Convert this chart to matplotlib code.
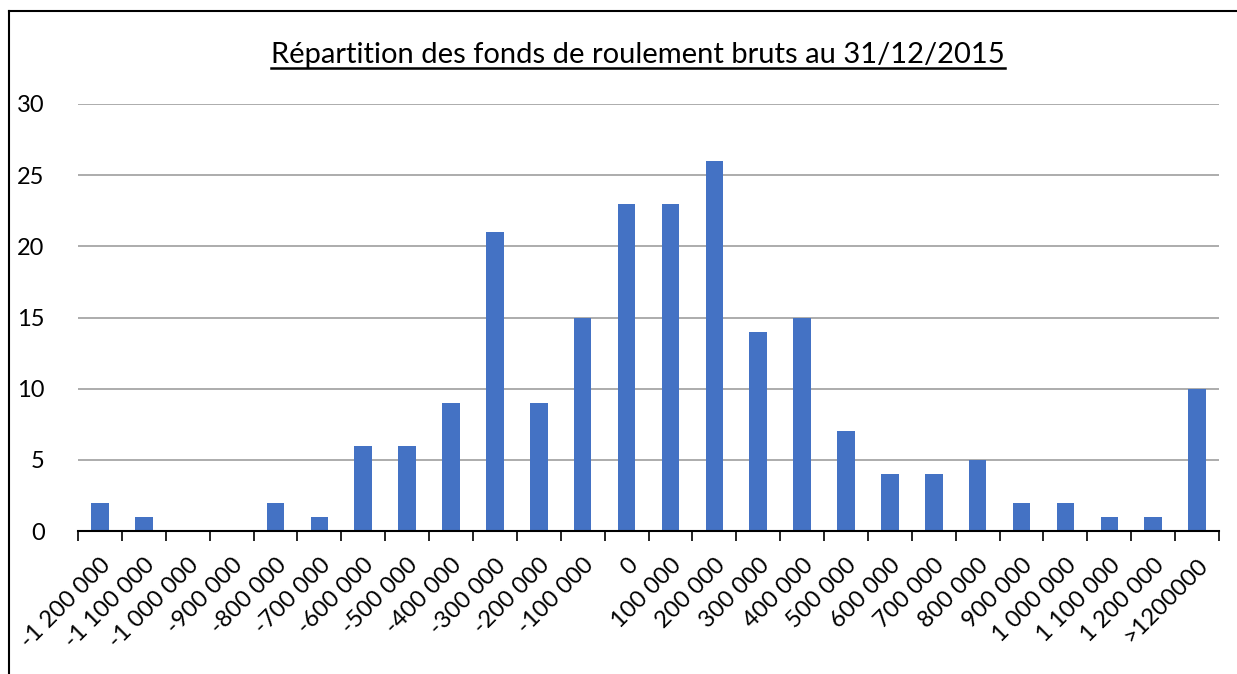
import matplotlib.pyplot as plt
from matplotlib.lines import Line2D
import numpy as np

plt.rcParams['font.family'] = ['Lato', 'DejaVu Sans']

categories = ['-1 200 000', '-1 100 000', '-1 000 000', '-900 000', '-800 000',
              '-700 000', '-600 000', '-500 000', '-400 000', '-300 000',
              '-200 000', '-100 000', '0', '100 000', '200 000', '300 000',
              '400 000', '500 000', '600 000', '700 000', '800 000', '900 000',
              '1 000 000', '1 100 000', '1 200 000', '>1200000']
counts = [2, 1, 0, 0, 2, 1, 6, 6, 9, 21, 9, 15, 23, 23, 26, 14, 15, 7, 4, 4,
          5, 2, 2, 1, 1, 10]
yticks = [0, 5, 10, 15, 20, 25, 30]
title = 'Répartition des fonds de roulement bruts au 31/12/2015'

W, H = 1237, 674
fig = plt.figure(figsize=(W / 100, H / 100), dpi=100)
ax = fig.add_axes([78 / W, 1 - 531 / H, (1219 - 78) / W, (531 - 104) / H])

x = np.arange(len(categories))
ax.bar(x, counts, width=0.4, color='#4472C4', zorder=3)

ax.set_xlim(-0.5, len(categories) - 0.5)
ax.set_ylim(0, 30)
ax.set_yticks(yticks)
ax.tick_params(axis='y', length=0, pad=24, labelsize=17)
ax.yaxis.grid(True, color='#A6A6A6', linewidth=1.3, zorder=0)

# category labels centred, tick marks on the boundaries
ax.set_xticks(x)
ax.set_xticklabels(categories, rotation=45, ha='right', va='top',
                   rotation_mode='anchor', fontsize=17)
ax.tick_params(axis='x', which='major', length=0, pad=17)
ax.set_xticks(np.arange(len(categories) + 1) - 0.5, minor=True)
ax.tick_params(axis='x', which='minor', length=7, width=1.2, color='black')

for s in ['top', 'right', 'left']:
    ax.spines[s].set_visible(False)
ax.spines['bottom'].set_color('black')
ax.spines['bottom'].set_linewidth(1.5)
ax.spines['bottom'].set_zorder(4)

t = fig.text(638 / W, 1 - 63 / H, title, ha='center', va='baseline', fontsize=21)

# outer frame (left and top edges visible)
fig.add_artist(Line2D([8.5 / W, 8.5 / W], [0, 1 - 11 / H], color='black',
                      linewidth=1.5, transform=fig.transFigure))
fig.add_artist(Line2D([8.5 / W, 1], [1 - 11 / H, 1 - 11 / H], color='black',
                      linewidth=1.5, transform=fig.transFigure))

# underline the title
fig.canvas.draw()
bb = t.get_window_extent().transformed(fig.transFigure.inverted())
fig.add_artist(Line2D([bb.x0, bb.x1], [1 - 68 / H, 1 - 68 / H], color='black',
                      linewidth=1.8, transform=fig.transFigure))

fig.savefig('out.png', dpi=100)
